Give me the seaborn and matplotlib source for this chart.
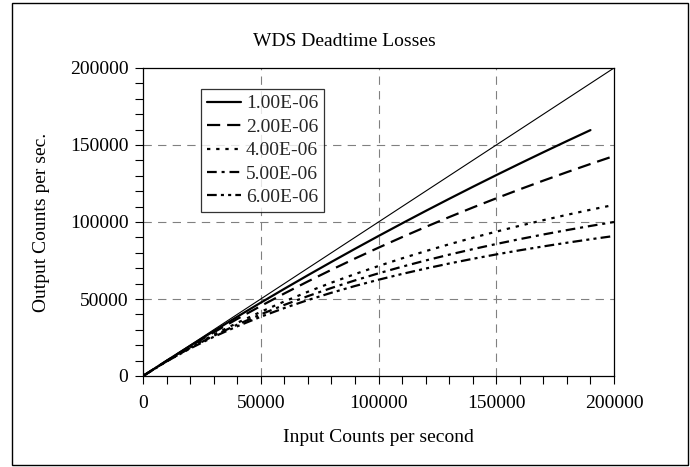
import matplotlib
matplotlib.use("Agg")
import matplotlib.pyplot as plt
import seaborn as sns
import pandas as pd
from matplotlib.patches import Rectangle
from matplotlib.ticker import MultipleLocator

sns.set_theme(style="white")
plt.rcParams['font.family'] = ['Liberation Serif', 'DejaVu Serif']
plt.rcParams['lines.scale_dashes'] = False

# ---- data ----
input_cps = [0, 10000, 20000, 30000, 40000, 50000, 60000, 70000, 80000, 90000,
             100000, 110000, 120000, 130000, 140000, 150000, 160000, 170000,
             180000, 190000, 200000]
ideal = [0, 200000]
out_1e6 = [0, 9901, 19608, 29126, 38462, 47619, 56604, 65421, 74074, 82569, 90909,
           99099, 107143, 115044, 122807, 130435, 137931, 145299, 152542, 159664]
out_2e6 = [0, 9804, 19231, 28302, 37037, 45455, 53571, 61404, 68966, 76271, 83333,
           90164, 96774, 103175, 109375, 115385, 121212, 126866, 132353, 137681, 142857]
out_4e6 = [0, 9615, 18519, 26786, 34483, 41667, 48387, 54688, 60606, 66176, 71429,
           76389, 81081, 85526, 89744, 93750, 97561, 101190, 104651, 107955, 111111]
out_5e6 = [0, 9524, 18182, 26087, 33333, 40000, 46154, 51852, 57143, 62069, 66667,
           70968, 75000, 78788, 82353, 85714, 88889, 91892, 94737, 97436, 100000]
out_6e6 = [0, 9434, 17857, 25424, 32258, 38462, 44118, 49296, 54054, 58442, 62500,
           66265, 69767, 73034, 76087, 78947, 81633, 84158, 86538, 88785, 90909]
labels = ["1.00E-06", "2.00E-06", "4.00E-06", "5.00E-06", "6.00E-06"]
series = [out_1e6, out_2e6, out_4e6, out_5e6, out_6e6]
styles = ["-", (0, (9.5, 5)), (0, (2.4, 4.2)), (0, (7, 3.5, 2.2, 3.5)),
          (0, (7, 3, 2.2, 3, 2.2, 3))]

FS = 14
fig = plt.figure(figsize=(6.9, 4.67), dpi=100)
fig.patch.set_facecolor("white")
ax = fig.add_axes([143/690, 1-376/467, (614-143)/690, (376-68)/467])

# 1:1 reference line
sns.lineplot(x=ideal, y=ideal, ax=ax, color="black", lw=0.8, legend=False)

for lab, ys, ls in zip(labels, series, styles):
    df = pd.DataFrame({"x": input_cps[:len(ys)], "y": ys})
    sns.lineplot(data=df, x="x", y="y", ax=ax, color="black", lw=1.6,
                 linestyle=ls, label=lab)

ax.set_xlim(0, 200000)
ax.set_ylim(0, 200000)
ax.xaxis.set_major_locator(MultipleLocator(50000))
ax.yaxis.set_major_locator(MultipleLocator(50000))
ax.xaxis.set_minor_locator(MultipleLocator(10000))
ax.yaxis.set_minor_locator(MultipleLocator(10000))
ax.tick_params(which="both", direction="out", length=5.5, width=0.8, color="black",
               bottom=True, left=True, top=False, right=False)
ax.tick_params(which="major", labelsize=FS, labelcolor="black")
ax.tick_params(axis="y", which="major", pad=5)
ax.tick_params(axis="x", which="major", pad=8)

for v in [50000, 100000, 150000]:
    ax.axhline(v, color="#808080", lw=0.8, linestyle=(0, (6, 4.5)), zorder=0)
    ax.axvline(v, color="#808080", lw=0.8, linestyle=(0, (6, 4.5)), zorder=0)

for s in ax.spines.values():
    s.set_color("black")
    s.set_linewidth(0.9)

ax.set_xlabel("Input Counts per second", fontsize=FS, color="black")
ax.xaxis.set_label_coords(0.5, (376-429)/308)
ax.set_ylabel("Output Counts per sec.", fontsize=FS, color="black")
ax.yaxis.set_label_coords((50-143)/471, 0.5)
ax.set_title("WDS Deadtime Losses", fontsize=FS, color="black",
             x=(344-143)/471, y=(376-42)/308, pad=0, va="center")

leg = ax.legend(loc="upper left", bbox_to_anchor=((201-143)/471, (376-89)/308),
                fontsize=FS, frameon=True, fancybox=False, shadow=False,
                handlelength=1.75, handletextpad=0.25, labelspacing=0.3,
                borderpad=0.3, borderaxespad=0)
leg.get_frame().set_edgecolor("black")
leg.get_frame().set_linewidth(0.9)

fig.patches.append(Rectangle((12/690, 2/467), 676/690, 462/467,
                             transform=fig.transFigure, fill=False,
                             edgecolor="black", lw=1.0))

fig.savefig("out.png", dpi=100, facecolor="white")
